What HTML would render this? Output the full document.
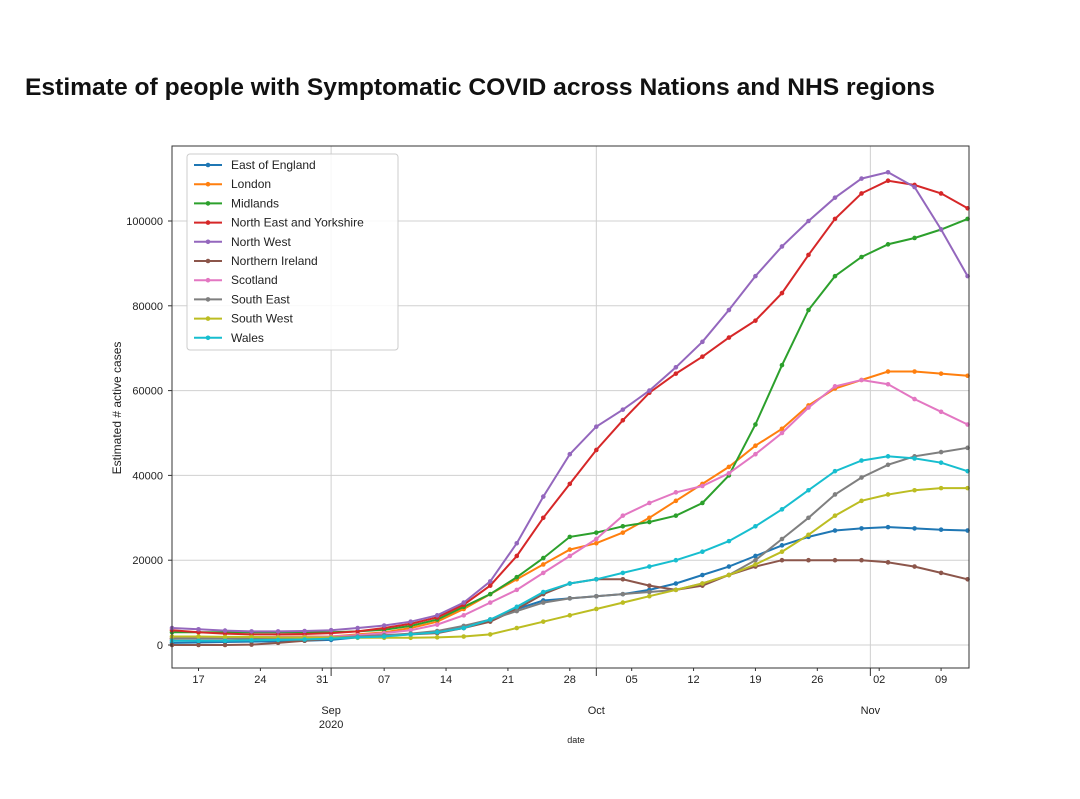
<!DOCTYPE html>
<html><head><meta charset="utf-8"><style>
body{margin:0;background:#fff;width:1080px;height:794px;overflow:hidden;font-family:"Liberation Sans",sans-serif}
</style></head><body>
<svg width="1080" height="794" xmlns="http://www.w3.org/2000/svg">
<text x="25" y="95" font-size="24" font-weight="bold" fill="#111" textLength="910" lengthAdjust="spacingAndGlyphs">Estimate of people with Symptomatic COVID across Nations and NHS regions</text>
<g id="grid"></g>
<g id="series"></g>
<rect x="172" y="146" width="797" height="522" fill="none" stroke="#333" stroke-width="1"/>
<g id="axes"></g>
<text transform="translate(121,408) rotate(-90)" text-anchor="middle" font-size="12" fill="#222">Estimated # active cases</text>
<text x="576" y="743" text-anchor="middle" font-size="9" fill="#222">date</text>
<g id="legend"></g>
</svg>
<script>
const NS="http://www.w3.org/2000/svg";
const dayIndex=[0,3,6,9,12,15,18,21,24,27,30,33,36,39,42,45,48,51,54,57,60,63,66,69,72,75,78,81,84,87,90];
const seriesNames=["East of England","London","Midlands","North East and Yorkshire","North West","Northern Ireland","Scotland","South East","South West","Wales"];
const seriesColors=["#1f77b4","#ff7f0e","#2ca02c","#d62728","#9467bd","#8c564b","#e377c2","#7f7f7f","#bcbd22","#17becf"];
const eastOfEngland=[500,600,700,800,900,1000,1200,1800,2200,2600,3000,4000,6000,8500,10500,11000,11500,12000,13000,14500,16500,18500,21000,23500,25500,27000,27500,27800,27500,27200,27000];
const london=[1500,1600,1700,1800,1900,2000,2000,2500,3000,4000,5500,8500,12000,15500,19000,22500,24000,26500,30000,34000,38000,42000,47000,51000,56500,60500,62500,64500,64500,64000,63500];
const midlands=[3000,3000,3000,3000,3000,3000,3000,3200,3600,4500,6000,9000,12000,16000,20500,25500,26500,28000,29000,30500,33500,40000,52000,66000,79000,87000,91500,94500,96000,98000,100500];
const northEastYorks=[3500,3000,2700,2500,2500,2600,2800,3200,4000,5000,6500,9500,14000,21000,30000,38000,46000,53000,59500,64000,68000,72500,76500,83000,92000,100500,106500,109500,108500,106500,103000];
const northWest=[4000,3700,3400,3200,3200,3300,3500,4000,4600,5500,7000,10000,15000,24000,35000,45000,51500,55500,60000,65500,71500,79000,87000,94000,100000,105500,110000,111500,108000,98000,87000];
const northernIreland=[0,0,0,100,500,1000,1500,2000,2200,2500,2800,4000,5500,8500,12000,14500,15500,15500,14000,13000,14000,16500,18500,20000,20000,20000,20000,19500,18500,17000,15500];
const scotland=[1500,1600,1700,1800,1900,1900,2000,2300,2800,3500,4800,7000,10000,13000,17000,21000,25000,30500,33500,36000,37500,40500,45000,50000,56000,61000,62500,61500,58000,55000,52000];
const southEast=[1500,1500,1500,1500,1600,1700,1800,2000,2300,2700,3300,4500,6000,8000,10000,11000,11500,12000,12500,13000,14500,16500,20000,25000,30000,35500,39500,42500,44500,45500,46500];
const southWest=[2000,2000,1900,1900,1800,1800,1800,1700,1700,1700,1800,2000,2500,4000,5500,7000,8500,10000,11500,13000,14500,16500,19000,22000,26000,30500,34000,35500,36500,37000,37000];
const wales=[1000,1000,1000,1100,1200,1300,1500,1800,2000,2500,3000,4000,6000,9000,12500,14500,15500,17000,18500,20000,22000,24500,28000,32000,36500,41000,43500,44500,44000,43000,41000];
const seriesData=[eastOfEngland,london,midlands,northEastYorks,northWest,northernIreland,scotland,southEast,southWest,wales];
const yTicks=[0,20000,40000,60000,80000,100000];
const xTickDays=[3,10,17,24,31,38,45,52,59,66,73,80,87];
const xTickLabels=["17","24","31","07","14","21","28","05","12","19","26","02","09"];
const monthDays=[18,48,79];
const monthLabels=["Sep","Oct","Nov"];

const X0=172,DPX=8.84,Y0=645,YPX=0.00424;
const xs=d=>X0+d*DPX, ys=v=>Y0-v*YPX;
function mk(t,a,p){const e=document.createElementNS(NS,t);for(const k in a)e.setAttribute(k,a[k]);(p||document.querySelector('svg')).appendChild(e);return e;}
const grid=document.getElementById('grid'),axes=document.getElementById('axes'),sg=document.getElementById('series'),lg=document.getElementById('legend');
yTicks.forEach(v=>{
  const l=mk('line',{x1:172,x2:969,y1:ys(v),y2:ys(v),stroke:'#d0d0d0','stroke-width':1},grid);
  
  
  const t=mk('text',{x:163,y:ys(v)+4,'text-anchor':'end','font-size':11,fill:'#222'},axes);t.textContent=v;
  
  
  mk('line',{x1:168,x2:172,y1:ys(v),y2:ys(v),stroke:'#333'},axes);
});
monthDays.forEach((d,i)=>{
  const l=mk('line',{x1:xs(d),x2:xs(d),y1:146,y2:668,stroke:'#d0d0d0','stroke-width':1},grid);
  
  
  mk('line',{x1:xs(d),x2:xs(d),y1:668,y2:676,stroke:'#333'},axes);
  const t=mk('text',{x:xs(d),y:714,'text-anchor':'middle','font-size':11,fill:'#222'},axes);t.textContent=monthLabels[i];
  
  
});
const yr=mk('text',{x:xs(18),y:728,'text-anchor':'middle','font-size':11,fill:'#222'},axes);yr.textContent='2020';


xTickDays.forEach((d,i)=>{
  mk('line',{x1:xs(d),x2:xs(d),y1:668,y2:671,stroke:'#333'},axes);
  const t=mk('text',{x:xs(d),y:683,'text-anchor':'middle','font-size':11,fill:'#222'},axes);t.textContent=xTickLabels[i];
  
  
});
seriesData.forEach((arr,si)=>{
  const pts=arr.map((v,i)=>xs(dayIndex[i]).toFixed(1)+','+ys(v).toFixed(1)).join(' ');
  const p=mk('polyline',{points:pts,fill:'none',stroke:seriesColors[si],'stroke-width':2},sg);
  
  
  arr.forEach((v,i)=>{
    const c=mk('circle',{cx:xs(dayIndex[i]),cy:ys(v),r:2.3,fill:seriesColors[si]},sg);
    
    
  });
});
const lb=mk('rect',{x:187,y:154,width:211,height:196,fill:'#fff','fill-opacity':0.85,stroke:'#ccc',rx:3},lg);


seriesNames.forEach((n,i)=>{
  const y=165+i*19.2;
  mk('line',{x1:194,x2:222,y1:y,y2:y,stroke:seriesColors[i],'stroke-width':2},lg);
  mk('circle',{cx:208,cy:y,r:2.3,fill:seriesColors[i]},lg);
  const t=mk('text',{x:231,y:y+4,'font-size':12,fill:'#222'},lg);t.textContent=n;
  
  
});
</script>
</body></html>
